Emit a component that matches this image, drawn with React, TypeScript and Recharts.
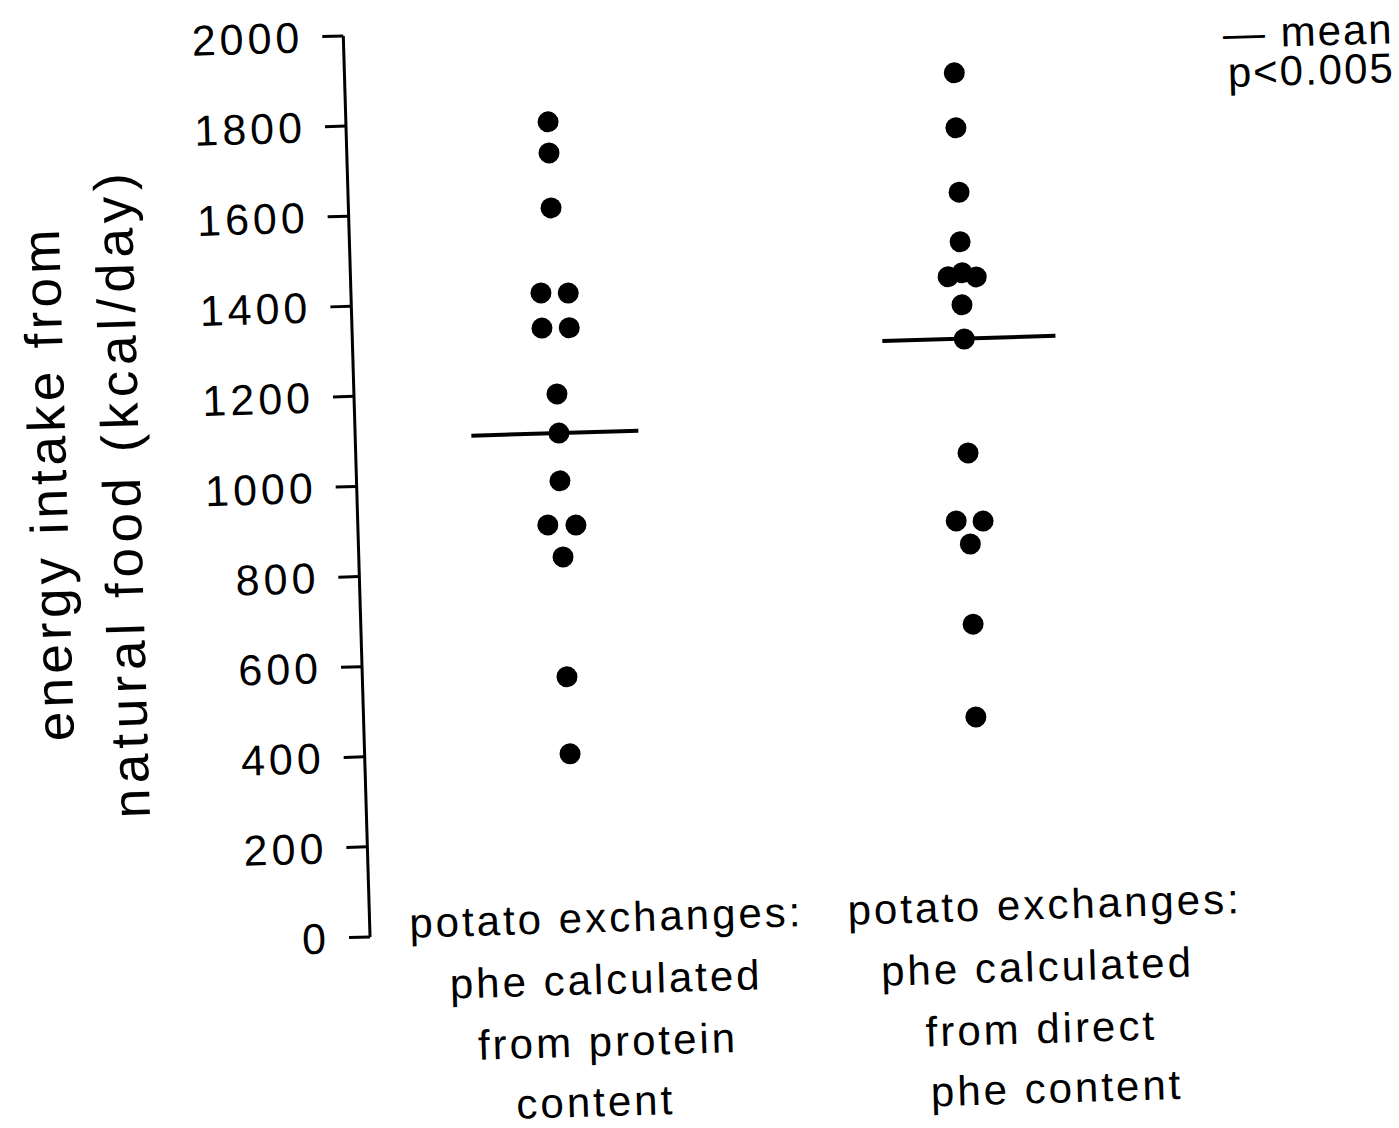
import { ScatterChart, Scatter, XAxis, YAxis, ReferenceLine, Legend } from "recharts"

// categories sit at 1 and 2 on a hidden numeric x axis
const categories = [1, 2]
const categoryLabels = [
    ["potato exchanges:", "phe calculated", "from protein", "content"],
    ["potato exchanges:", "phe calculated", "from direct", "phe content"],
]

// energy intake (kcal/day), phe from protein content
const proteinKcal = [1796, 1727, 1605, 1417, 1415, 1339, 1338, 1192, 1105, 999, 902, 900, 830, 564, 393]
// side-by-side spread of the dots, in category units
const proteinSpread = [-0.004, -0.004, -0.003, -0.034, 0.033, -0.034, 0.033, -0.002, 0, -0.001, -0.034, 0.035, 0.001, 0.002, 0.004]

// energy intake (kcal/day), phe from direct phe content
const directKcal = [1878, 1756, 1613, 1503, 1426, 1434, 1424, 1363, 1287, 1034, 884, 882, 832, 654, 448]
const directSpread = [-0.004, -0.004, -0.001, -0.002, -0.034, 0.001, 0.035, -0.002, 0.001, 0.002, -0.032, 0.034, 0.001, 0.002, 0.002]

const meanKcal = [1105, 1288]
const yTicks = [0, 200, 400, 600, 800, 1000, 1200, 1400, 1600, 1800, 2000]

const font = '"Liberation Sans", Arial, Helvetica, sans-serif'

const proteinData = proteinKcal.map((v, i) => ({ x: categories[0] + proteinSpread[i], y: v }))
const directData = directKcal.map((v, i) => ({ x: categories[1] + directSpread[i], y: v }))

const Dot = (props: any) => <circle cx={props.cx} cy={props.cy} r={10.5} fill="#000" />

// how far each mean bar reaches left / right of its category
const meanReach = [
    [-0.215, 0.195],
    [-0.2, 0.225],
]

// the typed labels are not quite centred under the dots
const lineShift = [
    [33, 31, 31, 17],
    [64, 55, 57, 71],
]
const lineOffsets = [2, 64, 126, 186]

const CategoryTick = (props: any) => {
    const idx = categories.indexOf(props.payload.value)
    if (idx < 0) return null
    return (
        <g>
            {categoryLabels[idx].map((line, i) => (
                <text
                    key={i}
                    x={props.x + lineShift[idx][i]}
                    y={props.y + lineOffsets[i]}
                    textAnchor="middle"
                    fontFamily={font}
                    fontSize={42}
                    letterSpacing={3}
                    fill="#000"
                >
                    {line}
                </text>
            ))}
        </g>
    )
}

const AxisTitle = () => (
    <g fontFamily={font} fontSize={53} fill="#000">
        <text x={69} y={464} transform="rotate(-90 69 464)" textAnchor="middle" letterSpacing={4.3}>
            energy intake from
        </text>
        <text x={142.5} y={476} transform="rotate(-90 142.5 476)" textAnchor="middle" letterSpacing={5.5}>
            natural food (kcal/day)
        </text>
    </g>
)

const MeanNote = () => (
    <div
        style={{
            fontFamily: font,
            fontSize: 42,
            lineHeight: "39px",
            letterSpacing: 2,
            textAlign: "right",
            color: "#000",
            whiteSpace: "nowrap",
        }}
    >
        <div>— mean</div>
        <div>p&lt;0.005</div>
    </div>
)

export default function App() {
    return (
        <div
            style={{
                position: "fixed",
                left: 0,
                top: 0,
                width: 1399,
                height: 1128,
                overflow: "hidden",
                background: "#fff",
            }}
        >
            {/* the scanned figure sits slightly tilted */}
            <div style={{ width: 1420, height: 1128, transform: "rotate(-1.7deg)", transformOrigin: "700px 560px" }}>
                <ScatterChart width={1420} height={1128} margin={{ top: 25.6, right: 205.25, bottom: 0, left: 0 }}>
                    <XAxis
                        type="number"
                        dataKey="x"
                        domain={[0.5, 2.6]}
                        ticks={categories}
                        interval={0}
                        axisLine={false}
                        tickLine={false}
                        tickSize={0}
                        tickMargin={0}
                        height={201}
                        tick={CategoryTick}
                        allowDataOverflow
                    />
                    <YAxis
                        type="number"
                        dataKey="y"
                        domain={[0, 2000]}
                        ticks={yTicks}
                        interval={0}
                        width={359}
                        tickSize={21}
                        tickMargin={19}
                        axisLine={{ stroke: "#000", strokeWidth: 3 }}
                        tickLine={{ stroke: "#000", strokeWidth: 3 }}
                        tick={{ fill: "#000", fontSize: 43, fontFamily: font, letterSpacing: 4 }}
                        label={AxisTitle}
                        allowDataOverflow
                    />
                    <Legend
                        layout="vertical"
                        align="center"
                        verticalAlign="middle"
                        wrapperStyle={{ top: 30, right: 11, left: "auto", width: "auto" }}
                        content={MeanNote}
                    />
                    <Scatter name="protein" data={proteinData} fill="#000" shape={Dot} isAnimationActive={false} />
                    <Scatter name="direct" data={directData} fill="#000" shape={Dot} isAnimationActive={false} />
                    {meanKcal.map((m, i) => (
                        <ReferenceLine
                            key={i}
                            segment={[
                                { x: categories[i] + meanReach[i][0], y: m },
                                { x: categories[i] + meanReach[i][1], y: m },
                            ]}
                            stroke="#000"
                            strokeWidth={4}
                        />
                    ))}
                </ScatterChart>
            </div>
        </div>
    )
}
